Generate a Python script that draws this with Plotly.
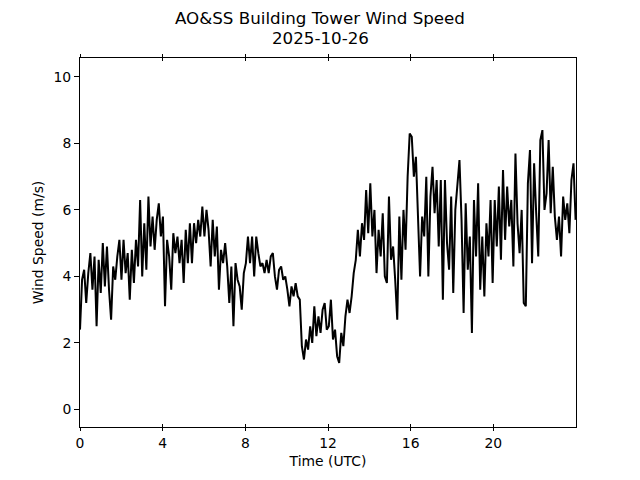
import numpy as np
import plotly.graph_objects as go

# Wind speed (m/s) at ~0.1 h spacing
speed_h00_05 = [
    2.4, 3.9, 4.2, 3.2, 4.1, 4.7, 3.6, 4.6, 2.5, 4.5,
    3.5, 5.0, 3.7, 4.9, 3.6, 2.7, 4.3, 3.9, 4.6, 5.1,
    3.9, 5.1, 4.1, 4.7, 3.3, 4.8, 3.8, 5.1, 4.3, 6.3,
    4.0, 5.6, 4.2, 6.4, 4.9, 5.8, 4.8, 5.7, 6.2, 5.2,
    5.8, 3.1, 5.1, 4.6, 3.6, 5.3, 4.7, 5.2, 4.4, 5.1,
    3.8, 5.4, 4.4, 5.6, 4.4, 5.6, 5.0, 5.7, 5.2, 6.1,
]
speed_h06_11 = [
    5.2, 6.0, 5.4, 4.3, 5.7, 4.6, 5.5, 3.6, 4.8, 4.4,
    5.0, 4.3, 3.2, 4.3, 2.5, 4.4, 3.9, 3.7, 3.0, 4.1,
    4.4, 5.2, 4.4, 5.2, 4.0, 5.2, 4.7, 4.3, 4.4, 4.1,
    4.5, 4.1, 4.6, 4.7, 4.0, 3.6, 4.2, 4.3, 3.9, 4.0,
    3.6, 3.1, 3.7, 3.4, 3.8, 3.4, 3.3, 1.9, 1.5, 2.1,
    1.8, 2.5, 2.0, 3.1, 2.2, 2.8, 2.3, 3.0, 3.2, 2.4,
]
speed_h12_17 = [
    2.5, 3.3, 2.1, 2.4, 1.6, 1.4, 2.3, 1.9, 2.8, 3.3,
    2.9, 3.4, 4.1, 4.5, 5.4, 4.6, 5.6, 5.1, 6.6, 5.3,
    6.8, 5.2, 6.0, 4.1, 5.4, 4.6, 5.9, 4.0, 3.8, 6.4,
    4.5, 4.9, 3.9, 2.7, 5.8, 3.9, 6.0, 4.8, 7.0, 8.3,
    8.2, 7.0, 7.6, 6.0, 4.0, 5.8, 5.2, 7.0, 4.0, 6.4,
    7.3, 5.9, 6.9, 4.9, 6.9, 3.3, 6.9, 5.0, 4.2, 6.4,
]
speed_h18_23 = [
    3.5, 6.0, 6.9, 7.5, 5.7, 2.9, 6.2, 4.2, 5.2, 2.3,
    6.3, 4.6, 6.8, 3.6, 5.2, 3.4, 5.6, 4.6, 6.3, 3.8,
    6.3, 4.9, 6.7, 4.5, 7.2, 5.1, 6.7, 5.5, 6.3, 4.3,
    7.7, 5.6, 4.7, 6.0, 3.2, 3.1, 6.8, 7.8, 4.4, 7.4,
    5.9, 4.6, 8.1, 8.4, 6.0, 6.5, 8.1, 5.9, 7.3, 5.8,
    5.1, 5.8, 4.6, 6.4, 5.7, 6.2, 5.3, 6.9, 7.4, 5.7,
]
speed = speed_h00_05 + speed_h06_11 + speed_h12_17 + speed_h18_23
time_utc = np.linspace(0, 23.98, len(speed))

x_ticks = [0, 4, 8, 12, 16, 20]
y_ticks = [0, 2, 4, 6, 8, 10]

title_line1 = "AO&SS Building Tower Wind Speed"
title_line2 = "2025-10-26"
x_label = "Time (UTC)"
y_label = "Wind Speed (m/s)"

FONT = "DejaVu Sans"

fig = go.Figure()
fig.add_trace(go.Scatter(x=time_utc, y=speed, mode="lines",
                         line=dict(color="black", width=2), showlegend=False))
# invisible trace to carry the second (inward-tick) x axis
fig.add_trace(go.Scatter(x=[0], y=[0], xaxis="x2", mode="markers",
                         marker=dict(opacity=0), showlegend=False, hoverinfo="skip"))

for txt, yy in [(title_line1, 1.108), (title_line2, 1.0545)]:
    fig.add_annotation(text=txt, x=0.484, y=yy, xref="paper", yref="paper",
                       xanchor="center", yanchor="middle", showarrow=False,
                       font=dict(family=FONT, size=16.7, color="black"))

fig.update_layout(
    width=640, height=480,
    margin=dict(l=72, r=72, t=50, b=61),
    paper_bgcolor="white", plot_bgcolor="white",
    font=dict(family=FONT, size=14, color="black"),
    xaxis=dict(range=[0, 24], tickvals=x_ticks, ticks="outside", ticklen=3,
               tickwidth=1, tickcolor="black", showline=True, linecolor="black",
               linewidth=1, mirror="ticks", showgrid=False, zeroline=False,
               title=dict(text=x_label, font=dict(size=13.9), standoff=6),
               tickfont=dict(size=13.9)),
    xaxis2=dict(range=[0, 24], overlaying="x", tickvals=x_ticks, ticks="inside",
                ticklen=3, tickwidth=1, tickcolor="black", showline=False,
                mirror="ticks", showticklabels=False, showgrid=False,
                zeroline=False, matches="x"),
    yaxis=dict(range=[-0.53, 10.57], tickvals=y_ticks, ticks="outside", ticklen=5,
               tickwidth=1, tickcolor="black", showline=True, linecolor="black",
               linewidth=1, mirror=True, showgrid=False, zeroline=False,
               title=dict(text=y_label, font=dict(size=13.9), standoff=6),
               tickfont=dict(size=13.9)),
)

fig.write_html("out.html")
